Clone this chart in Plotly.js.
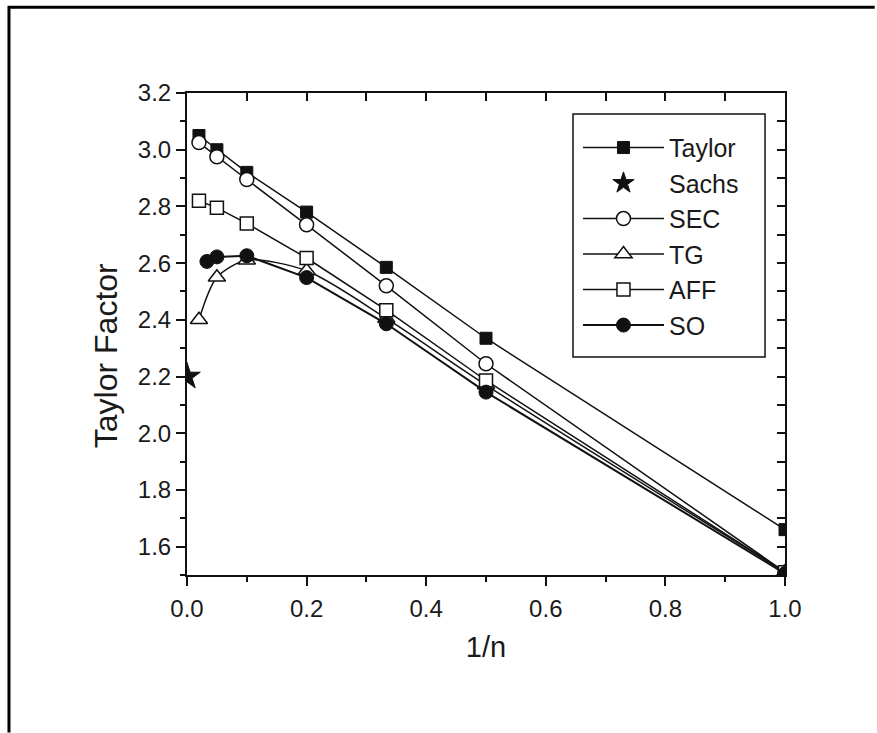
<!DOCTYPE html>
<html>
<head>
<meta charset="utf-8">
<script src="https://cdn.plot.ly/plotly-3.0.1.min.js"></script>
<style>html,body{margin:0;padding:0;background:#fff;overflow:hidden;}#chart{width:877px;height:733px;overflow:hidden;}</style>
</head>
<body>
<div id="chart"></div>
<script>
// 1/n values
const xMain = [0.02, 0.05, 0.1, 0.2, 0.3333, 0.5, 1.0];
const xSO = [0.0333, 0.05, 0.1, 0.2, 0.3333, 0.5, 1.0];
const xSachs = [0.0];
// Taylor factor values
const taylorY = [3.05, 3.0, 2.92, 2.78, 2.585, 2.335, 1.66];
const sachsY = [2.2];
const secY = [3.025, 2.975, 2.895, 2.735, 2.52, 2.245, 1.51];
const tgY = [2.40, 2.55, 2.61, 2.573, 2.405, 2.17, 1.51];
const affY = [2.82, 2.795, 2.74, 2.618, 2.434, 2.186, 1.51];
const soY = [2.606, 2.622, 2.626, 2.549, 2.386, 2.145, 1.505];
const xTickVals = [0, 0.2, 0.4, 0.6, 0.8, 1.0];
const xTickText = ['0.0', '0.2', '0.4', '0.6', '0.8', '1.0'];
const yTickVals = [1.6, 1.8, 2.0, 2.2, 2.4, 2.6, 2.8, 3.0, 3.2];
const yTickText = ['1.6', '1.8', '2.0', '2.2', '2.4', '2.6', '2.8', '3.0', '3.2'];

const ink = '#111';
const lineW = 1.5;
const openMarker = (sym, size) => ({symbol: sym, size: size, color: '#fff', line: {color: ink, width: 1.5}});
const filledMarker = (sym, size) => ({symbol: sym, size: size, color: ink, line: {color: ink, width: 1}});

const traces = [
  {name: 'Taylor', x: xMain, y: taylorY, mode: 'lines+markers',
   line: {color: ink, width: lineW}, marker: filledMarker('square', 12)},
  {name: 'Sachs', x: xSachs, y: sachsY, mode: 'markers',
   marker: filledMarker('star', 20)},
  {name: 'SEC', x: xMain, y: secY, mode: 'lines+markers',
   line: {color: ink, width: lineW}, marker: openMarker('circle', 14)},
  {name: 'TG', x: xMain, y: tgY, mode: 'lines+markers',
   line: {color: ink, width: lineW, shape: 'spline', smoothing: 0.8}, marker: openMarker('triangle-up', 15)},
  {name: 'AFF', x: xMain, y: affY, mode: 'lines+markers',
   line: {color: ink, width: lineW}, marker: openMarker('square', 13)},
  {name: 'SO', x: xSO, y: soY, mode: 'lines+markers',
   line: {color: ink, width: 2}, marker: filledMarker('circle', 14)}
];

// inside-pointing ticks on top and right axes (dummy invisible trace)
traces.push({x: [0.5], y: [2], xaxis: 'x2', yaxis: 'y2', mode: 'markers', marker: {opacity: 0}, showlegend: false, hoverinfo: 'skip'});

const fontFam = 'Liberation Sans, Arial, sans-serif';
const layout = {
  width: 877, height: 733,
  margin: {l: 187, r: 92, t: 93, b: 158, pad: 0},
  paper_bgcolor: '#fff', plot_bgcolor: '#fff',
  font: {family: fontFam, color: '#1a1a1a', size: 24},
  showlegend: true,
  legend: {
    x: 0.6538, y: 0.934, xanchor: 'left', yanchor: 'top',
    bgcolor: 'rgba(0,0,0,0)', borderwidth: 0,
    font: {family: fontFam, size: 25, color: '#1a1a1a'},
    itemwidth: 81, traceorder: 'normal'
  },
  xaxis: {
    range: [0, 1], tickvals: xTickVals, ticktext: xTickText,
    ticks: 'outside', ticklen: 9, tickwidth: 2, tickcolor: ink,
    minor: {dtick: 0.1, tick0: 0, ticks: 'outside', ticklen: 5, tickwidth: 2, tickcolor: ink},
    showline: true, linecolor: ink, linewidth: 2, showgrid: false, zeroline: false,
    tickfont: {size: 24}, ticklabelstandoff: 2,
    title: {text: '1/n', font: {size: 29}, standoff: 16}
  },
  yaxis: {
    range: [1.5, 3.2], tickvals: yTickVals, ticktext: yTickText,
    ticks: 'outside', ticklen: 9, tickwidth: 2, tickcolor: ink,
    minor: {dtick: 0.1, tick0: 0, ticks: 'outside', ticklen: 5, tickwidth: 2, tickcolor: ink},
    showline: true, linecolor: ink, linewidth: 2, showgrid: false, zeroline: false,
    tickfont: {size: 24}
  },
  xaxis2: {
    overlaying: 'x', side: 'top', range: [0, 1], dtick: 0.1, tick0: 0,
    ticks: 'inside', ticklen: 8, tickwidth: 2, tickcolor: ink, showticklabels: false,
    showline: true, linecolor: ink, linewidth: 2, showgrid: false, zeroline: false
  },
  yaxis2: {
    overlaying: 'y', side: 'right', range: [1.5, 3.2], dtick: 0.1, tick0: 0,
    ticks: 'inside', ticklen: 8, tickwidth: 2, tickcolor: ink, showticklabels: false,
    showline: true, linecolor: ink, linewidth: 2, showgrid: false, zeroline: false
  },
  annotations: [
    {text: 'Taylor Factor', xref: 'paper', yref: 'paper', x: -0.1355, y: 0.456,
     xanchor: 'center', yanchor: 'middle', textangle: -90, showarrow: false,
     font: {family: fontFam, size: 32, color: '#1a1a1a'}}
  ],
  shapes: [
    {type: 'path', xref: 'paper', yref: 'paper',
     path: 'M -0.2977 -0.327 L -0.2977 1.178 L 1.15 1.178',
     line: {color: '#000', width: 3}, layer: 'above'},
    {type: 'rect', xref: 'paper', yref: 'paper', x0: 0.6455, x1: 0.9666, y0: 0.4523, y1: 0.9564,
     line: {color: ink, width: 1.5}, fillcolor: 'rgba(255,255,255,1)', layer: 'below'}
  ]
};

Plotly.newPlot('chart', traces, layout, {displayModeBar: false, staticPlot: true});
</script>
</body>
</html>
